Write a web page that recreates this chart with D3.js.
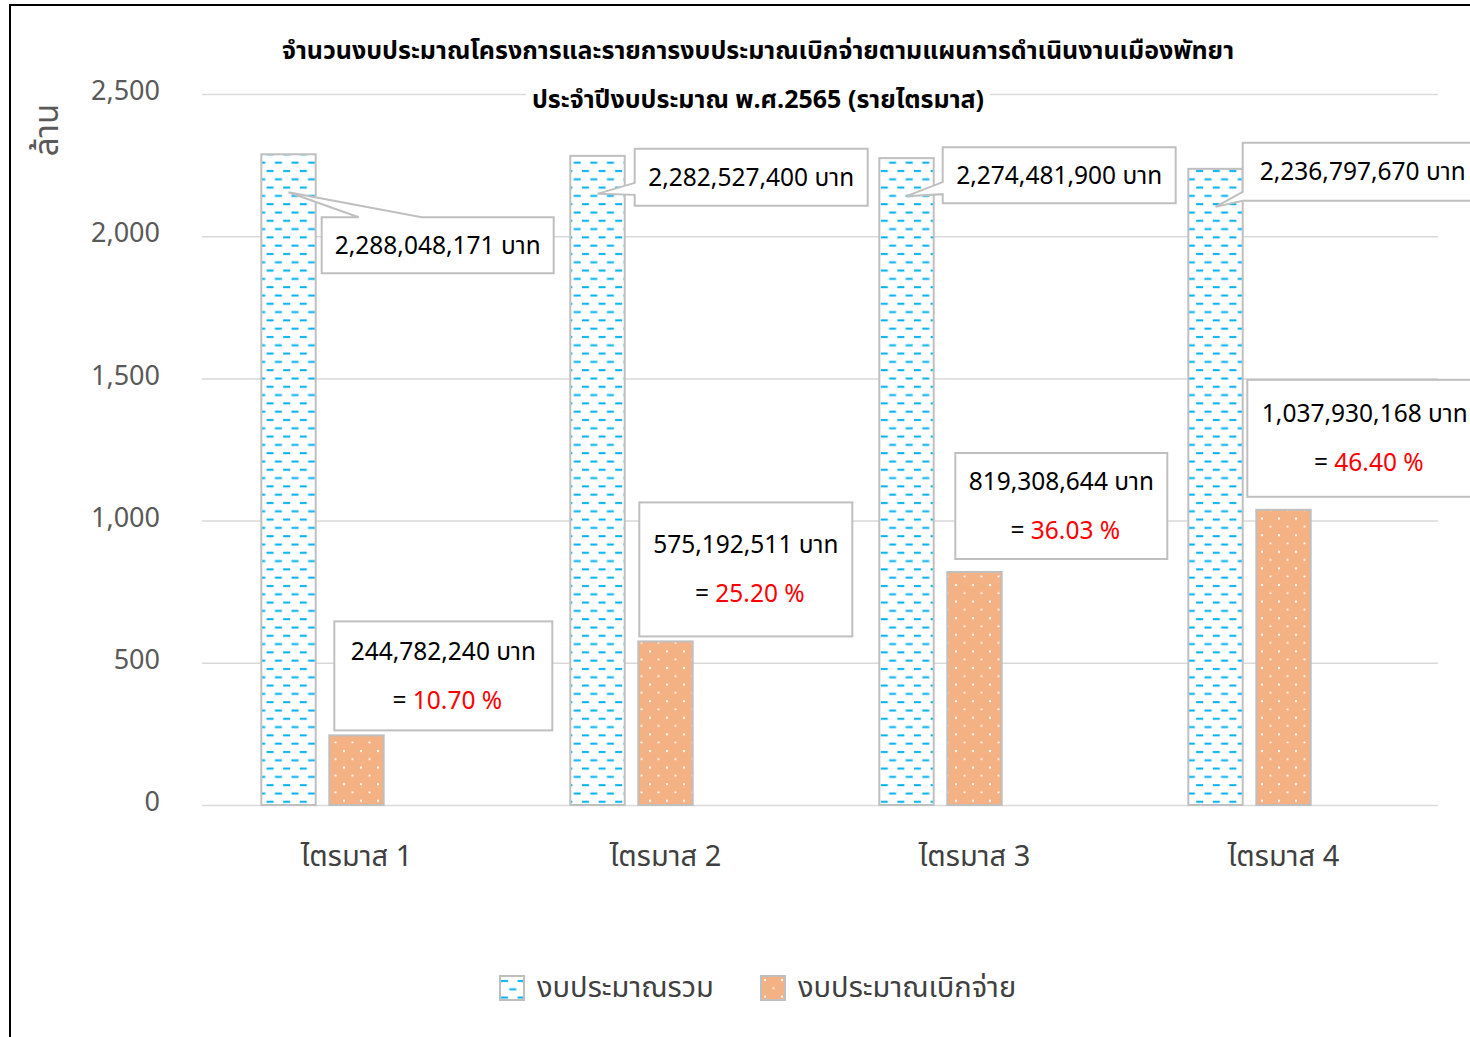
<!DOCTYPE html>
<html>
<head>
<meta charset="utf-8">
<script src="https://cdn.jsdelivr.net/npm/d3@7"></script>
<style>
  body { margin: 0; background: #fff; }
  svg text { font-family: Tahoma, "Noto Sans Thai", "Leelawadee UI", "DejaVu Sans", sans-serif; }
</style>
</head>
<body>
<div id="chartDiv"></div>
<script>
/*
DATA (values in baht, axis in millions)
*/
var quarters = ["ไตรมาส 1", "ไตรมาส 2", "ไตรมาส 3", "ไตรมาส 4"];
var totalBudget = [2288048171, 2282527400, 2274481900, 2236797670];
var spentBudget = [244782240, 575192511, 819308644, 1037930168];
var spentPercent = ["10.70", "25.20", "36.03", "46.40"];
var yTicks = [0, 500, 1000, 1500, 2000, 2500];
var seriesNames = ["งบประมาณรวม", "งบประมาณเบิกจ่าย"];
var titleLines = [
  "จำนวนงบประมาณโครงการและรายการงบประมาณเบิกจ่ายตามแผนการดำเนินงานเมืองพัทยา",
  "ประจำปีงบประมาณ พ.ศ.2565 (รายไตรมาส)"
];
var axisTitle = "ล้าน";

// callout placement, relative to each bar top (pixels)
var totalCallouts = [
  {dx: 6, dy: 63, w: 232, h: 56, side: "top", b1: 37, b2: 100},
  {dx: 10, dy: -7, w: 233, h: 57, side: "left", b1: 34, b2: 46},
  {dx: 9, dy: -11, w: 233, h: 56, side: "left", b1: 35, b2: 47},
  {dx: 0, dy: -26, w: 240, h: 58, side: "left", b1: 49, b2: 58}
];
var spentCallouts = [
  {dx: 5, dy: -114, w: 218, h: 109},
  {dx: 1, dy: -139, w: 213, h: 134},
  {dx: 8, dy: -119, w: 212, h: 106},
  {dx: -9, dy: -130, w: 235, h: 117}
];

var width = 1470, height = 1037;
var plot = {left: 202, right: 1438, top: 94, bottom: 805};

var svg = d3.select("#chartDiv").append("svg")
    .attr("width", width)
    .attr("height", height);

// fill patterns
var defs = svg.append("defs");
var pBlue = defs.append("pattern")
    .attr("id", "dashBlue")
    .attr("patternUnits", "userSpaceOnUse")
    .attr("width", 16.6).attr("height", 16.6);
pBlue.append("rect").attr("width", 16.6).attr("height", 16.6).attr("fill", "#fff");
pBlue.append("rect").attr("x", 1).attr("y", 4).attr("width", 7).attr("height", 2).attr("fill", "#00b0f0");
pBlue.append("rect").attr("x", 9.3).attr("y", 12.3).attr("width", 7).attr("height", 2).attr("fill", "#00b0f0");

var pOrange = defs.append("pattern")
    .attr("id", "dotOrange")
    .attr("patternUnits", "userSpaceOnUse")
    .attr("width", 17).attr("height", 16.6);
pOrange.append("rect").attr("width", 17).attr("height", 16.6).attr("fill", "#f4b183");
pOrange.append("rect").attr("x", 3).attr("y", 3).attr("width", 2).attr("height", 2).attr("fill", "#fff");
pOrange.append("rect").attr("x", 11.5).attr("y", 11.3).attr("width", 2).attr("height", 1.6).attr("fill", "#fff");

// outer frame
svg.append("path")
    .attr("d", "M10," + height + " L10,5 L" + width + ",5")
    .attr("fill", "none")
    .attr("stroke", "#000")
    .attr("stroke-width", 2);

var x = d3.scaleBand()
    .domain(quarters)
    .range([plot.left, plot.right]);

// third slot is an empty series in the source workbook
var xInner = d3.scaleBand()
    .domain(["total", "spent", "blank"])
    .range([0, x.bandwidth()])
    .paddingInner(0.2)
    .paddingOuter(0.872);

var y = d3.scaleLinear()
    .domain([0, 2500])
    .range([plot.bottom, plot.top]);

// gridlines
svg.append("g").selectAll("line")
    .data(yTicks)
    .enter().append("line")
      .attr("x1", plot.left).attr("x2", plot.right)
      .attr("y1", function(d) { return y(d) + 0.5; })
      .attr("y2", function(d) { return y(d) + 0.5; })
      .attr("stroke", "#d9d9d9")
      .attr("stroke-width", 1.5);

// y axis
var yAxis = svg.append("g")
    .attr("transform", "translate(160,-3)")
    .call(d3.axisLeft(y).tickValues(yTicks).tickSize(0).tickPadding(0).tickFormat(d3.format(",")));
yAxis.select(".domain").remove();
yAxis.selectAll("text")
    .attr("fill", "#595959")
    .style("font-size", "27px");

// x axis
var xAxis = svg.append("g")
    .attr("transform", "translate(0," + (plot.bottom + 40) + ")")
    .call(d3.axisBottom(x).tickSize(0).tickPadding(0));
xAxis.select(".domain").remove();
xAxis.selectAll("text")
    .attr("fill", "#404040")
    .style("font-size", "29px");

svg.append("text")
    .attr("transform", "translate(58,130) rotate(-90)")
    .attr("text-anchor", "middle")
    .attr("fill", "#595959")
    .style("font-size", "33px")
    .text(axisTitle);

// bars
var barW = xInner.bandwidth();
function barX(i, key) { return x(quarters[i]) + xInner(key); }

svg.append("g").selectAll("rect")
    .data(totalBudget)
    .enter().append("rect")
      .attr("x", function(d, i) { return barX(i, "total"); })
      .attr("y", function(d) { return y(d / 1e6); })
      .attr("width", barW)
      .attr("height", function(d) { return y(0) - y(d / 1e6); })
      .attr("fill", "url(#dashBlue)")
      .attr("stroke", "#bfbfbf")
      .attr("stroke-width", 2);

svg.append("g").selectAll("rect")
    .data(spentBudget)
    .enter().append("rect")
      .attr("x", function(d, i) { return barX(i, "spent"); })
      .attr("y", function(d) { return y(d / 1e6); })
      .attr("width", barW)
      .attr("height", function(d) { return y(0) - y(d / 1e6); })
      .attr("fill", "url(#dotOrange)")
      .attr("stroke", "#bfbfbf")
      .attr("stroke-width", 2);

/*
CALLOUTS
*/
function calloutPath(bx, by, w, h, c, tx, ty) {
  if (c.side == "top") {
    return "M" + bx + "," + by + " L" + (bx + c.b1) + "," + by + " L" + tx + "," + ty +
      " L" + (bx + c.b2) + "," + by + " L" + (bx + w) + "," + by + " L" + (bx + w) + "," + (by + h) +
      " L" + bx + "," + (by + h) + " Z";
  }
  return "M" + bx + "," + by + " L" + (bx + w) + "," + by + " L" + (bx + w) + "," + (by + h) +
    " L" + bx + "," + (by + h) + " L" + bx + "," + (by + c.b2) + " L" + tx + "," + ty +
    " L" + bx + "," + (by + c.b1) + " Z";
}

var fmt = d3.format(",");
var labelSize = "24.5px";

totalBudget.forEach(function(d, i) {
  var c = totalCallouts[i];
  var top = y(d / 1e6);
  var bx = barX(i, "total") + barW + c.dx;
  var by = top + c.dy;
  var tx = barX(i, "total") + barW / 2;
  var ty = top + 38;
  svg.append("path")
      .attr("d", calloutPath(bx, by, c.w, c.h, c, tx, ty))
      .attr("fill", "#fff")
      .attr("stroke", "#bfbfbf")
      .attr("stroke-width", 2);
  svg.append("text")
      .attr("x", bx + c.w / 2)
      .attr("y", by + c.h / 2)
      .attr("dy", "0.35em")
      .attr("text-anchor", "middle")
      .attr("fill", "#000")
      .style("font-size", labelSize)
      .text(fmt(d) + " บาท");
});

spentBudget.forEach(function(d, i) {
  var c = spentCallouts[i];
  var top = y(d / 1e6);
  var bx = barX(i, "spent") + c.dx;
  var by = top + c.dy;
  svg.append("rect")
      .attr("x", bx).attr("y", by)
      .attr("width", c.w).attr("height", c.h)
      .attr("fill", "#fff")
      .attr("stroke", "#bfbfbf")
      .attr("stroke-width", 2);
  var cx = bx + c.w / 2, cy = by + c.h / 2;
  svg.append("text")
      .attr("x", cx).attr("y", cy - 24.5)
      .attr("dy", "0.35em")
      .attr("text-anchor", "middle")
      .style("font-size", labelSize)
      .text(fmt(d) + " บาท");
  var t = svg.append("text")
      .attr("x", cx + 4).attr("y", cy + 24.5)
      .attr("dy", "0.35em")
      .attr("text-anchor", "middle")
      .style("font-size", labelSize);
  t.append("tspan").attr("fill", "#000").text("= ");
  t.append("tspan").attr("fill", "#ff0000").text(spentPercent[i] + " %");
});

/*
TITLE
*/
var tl2 = svg.append("text")
    .attr("x", 758).attr("y", 99)
    .attr("dy", "0.35em")
    .attr("text-anchor", "middle")
    .style("font-size", "25px")
    .style("font-weight", "bold")
    .text(titleLines[1]);
var bb = tl2.node().getBBox();
svg.insert("rect", function() { return tl2.node(); })
    .attr("x", bb.x - 6).attr("y", bb.y)
    .attr("width", bb.width + 12).attr("height", bb.height)
    .attr("fill", "#fff");

svg.append("text")
    .attr("x", 758).attr("y", 50)
    .attr("dy", "0.35em")
    .attr("text-anchor", "middle")
    .style("font-size", "25px")
    .style("font-weight", "bold")
    .text(titleLines[0]);

/*
LEGEND
*/
var legendX = [500, 761];
var legendFill = ["url(#dashBlue)", "url(#dotOrange)"];
var legend = svg.append("g").selectAll("g")
    .data(seriesNames)
    .enter().append("g")
      .attr("transform", function(d, i) { return "translate(" + legendX[i] + ",976)"; });
legend.append("rect")
    .attr("width", 24).attr("height", 24)
    .attr("fill", function(d, i) { return legendFill[i]; })
    .attr("stroke", "#bfbfbf")
    .attr("stroke-width", 2);
legend.append("text")
    .attr("x", 37).attr("y", 11)
    .attr("dy", "0.35em")
    .attr("fill", "#404040")
    .style("font-size", "29px")
    .text(function(d) { return d; });
</script>
</body>
</html>
